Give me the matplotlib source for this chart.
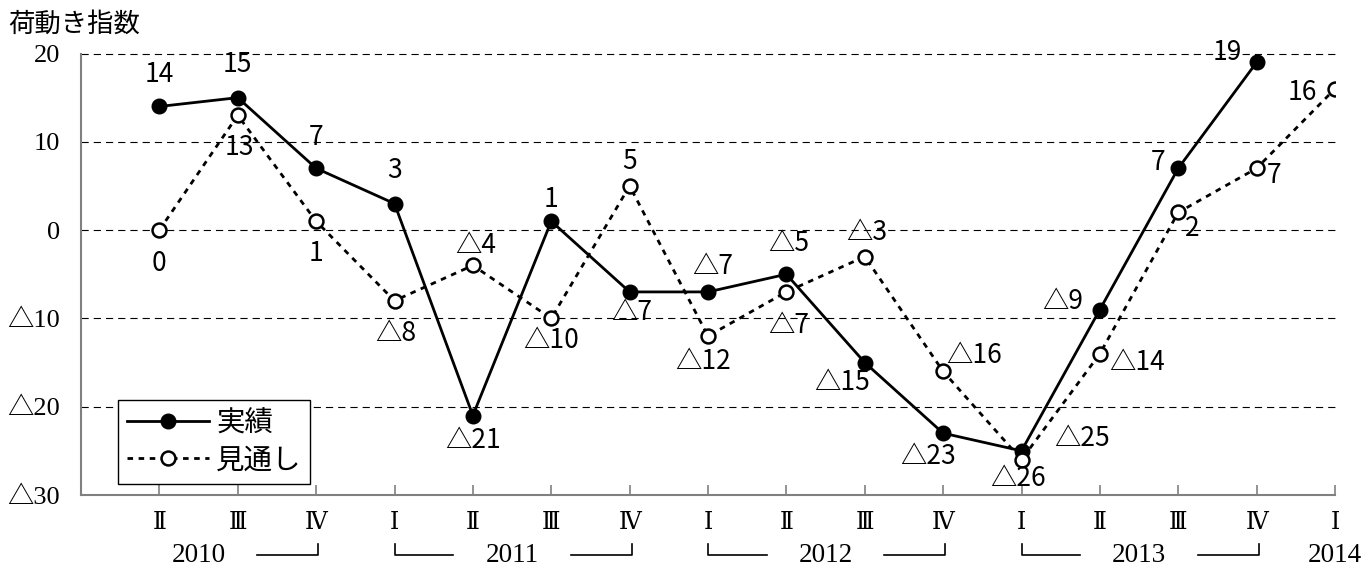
import matplotlib
matplotlib.use("Agg")
import matplotlib.pyplot as plt
from matplotlib.font_manager import FontProperties


# data
quarters = ["Ⅱ", "Ⅲ", "Ⅳ", "Ⅰ", "Ⅱ", "Ⅲ", "Ⅳ", "Ⅰ", "Ⅱ", "Ⅲ", "Ⅳ", "Ⅰ", "Ⅱ", "Ⅲ", "Ⅳ", "Ⅰ"]
years = ["2010", "2011", "2012", "2013", "2014"]
actual = [14, 15, 7, 3, -21, 1, -7, -7, -5, -15, -23, -25, -9, 7, 19]
outlook = [0, 13, 1, -8, -4, -10, 5, -12, -7, -3, -16, -26, -14, 2, 7, 16]
yticks = [-30, -20, -10, 0, 10, 20]

# label offsets in pixels (dx, dy)
actual_off = [(0, 32), (0, 33), (0, 31), (0, 33), (0, -25), (0, 22), (2, -21), (5, 25),
              (2, 31), (-23, -20), (-15, -23), (61, 12), (-37, 8), (-20, 6), (-29, 10)]
outlook_off = [(0, -33), (2, -32), (0, -32), (1, -33), (3, 20), (0, -22), (0, 24), (-5, -25),
               (2, -34), (2, 24), (31, 16), (-3, -19), (37, -9), (14, -16), (17, -7), (-33, -4)]
year_x = [0.5, 4.5, 8.5, 12.5, 15.0]


def fmt(v):
    return "△%d" % -v if v < 0 else "%d" % v


label_font = ["Liberation Sans Narrow", "Noto Sans CJK JP"]
serif_font = ["Liberation Serif", "Noto Sans CJK JP"]
roman_font = ["DejaVu Serif", "Noto Sans CJK JP"]
jp_font = ["Noto Sans CJK JP", "DejaVu Sans"]

fig = plt.figure(figsize=(13.69, 5.67), dpi=100)
ax = fig.add_axes([81 / 1369, 72 / 567, (1335 - 81) / 1369, 441.5 / 567])

ax.set_xlim(-1, 15)
ax.set_ylim(-30, 20)

for v in yticks[1:]:
    ax.axhline(v, color="black", lw=0.8, linestyle=(0, (6.5, 4.5)), clip_on=False, zorder=1)

xa = list(range(len(actual)))
xo = list(range(len(outlook)))
l1, = ax.plot(xa, actual, color="black", lw=2, marker="o", markersize=10.5,
              markerfacecolor="black", markeredgecolor="black", zorder=3, label="実績")
l2, = ax.plot(xo, outlook, color="black", lw=2, linestyle=(0, (2, 2)), marker="o", markersize=10,
              markerfacecolor="white", markeredgecolor="black", markeredgewidth=1.8, zorder=4,
              label="見通し")

for x, v, (dx, dy) in zip(xa, actual, actual_off):
    ax.annotate(fmt(v), (x, v), xytext=(dx, dy), textcoords="offset pixels",
                ha="center", va="center", fontsize=19, family=label_font, zorder=5)
for x, v, (dx, dy) in zip(xo, outlook, outlook_off):
    ax.annotate(fmt(v), (x, v), xytext=(dx, dy), textcoords="offset pixels",
                ha="center", va="center", fontsize=19, family=label_font, zorder=5)

# axes style
for s in ["top", "right"]:
    ax.spines[s].set_visible(False)
for s in ["left", "bottom"]:
    ax.spines[s].set_color("#808080")
    ax.spines[s].set_linewidth(1.5)

ax.set_xticks(range(len(quarters)))
ax.tick_params(axis="x", direction="in", length=7, width=1.2, color="#808080", labelbottom=False)
ax.set_yticks(yticks)
ax.set_yticklabels([fmt(v) for v in yticks], family=serif_font, fontsize=19)
ax.tick_params(axis="y", length=0, pad=15)

trans = ax.get_xaxis_transform()
for i, q in enumerate(quarters):
    ax.text(i, -0.0634, q, transform=trans, ha="center", va="center",
            fontsize=17, family=roman_font, clip_on=False)

for yx, yl in zip(year_x, years):
    ax.text(yx, -0.138, yl, transform=trans, ha="center", va="center",
            fontsize=19.5, family=serif_font, clip_on=False)

# year brackets
starts = [i for i, q in enumerate(quarters) if q == "Ⅰ"]
yb, yt = -0.136, -0.111
bk = dict(color="black", lw=1.2, transform=trans, clip_on=False)
ax.plot([1.25, 2.03, 2.03], [yb, yb, yt], **bk)
for s in starts[:-1]:
    ax.plot([s, s, s + 0.75], [yt, yb, yb], **bk)
    ax.plot([s + 2.25, s + 3.03, s + 3.03], [yb, yb, yt], **bk)

leg = ax.legend(handles=[l1, l2], loc="lower left",
                bbox_to_anchor=((118 - 81) / 1254, (495 - 484) / 441.5), borderaxespad=0,
                fancybox=False, edgecolor="black", framealpha=1,
                prop=FontProperties(family=jp_font, size=20.5),
                handlelength=2.9, handletextpad=0.25, borderpad=0.3, labelspacing=0.25)
leg.get_frame().set_linewidth(1.0)

fig.text(8 / 1369, 1 - 24 / 567, "荷動き指数", fontsize=19, family=jp_font, ha="left", va="center")

fig.savefig("out.png", dpi=100)
